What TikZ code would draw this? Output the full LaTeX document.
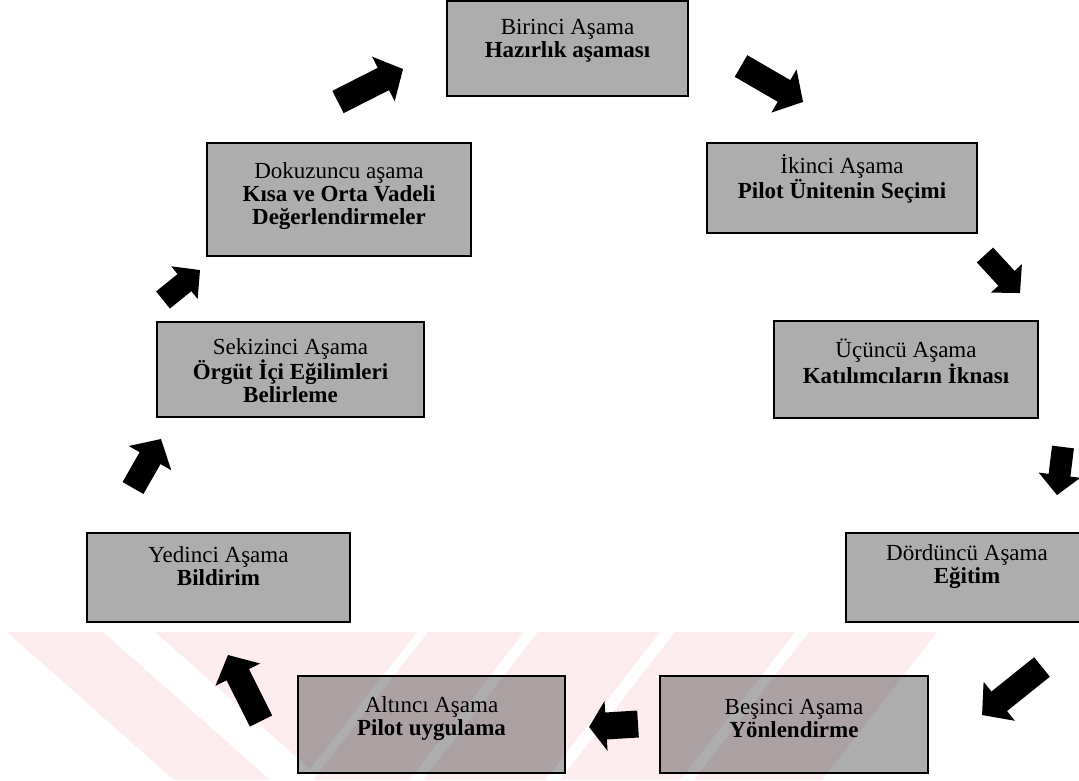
\documentclass[tikz,border=0pt]{standalone}
\usepackage{fontspec}
\setmainfont{Liberation Serif}
\usetikzlibrary{calc}
\definecolor{boxgray}{gray}{0.68}
\definecolor{markpink}{RGB}{253,237,239}
\tikzset{
  stagebox/.style={draw=black, line width=1.8pt, fill=boxgray, inner sep=0pt},
  stagetext/.style={align=center, inner sep=0pt, text=black,
    font=\fontsize{23}{23}\selectfont},
  ashaft/.store in=\blkshaft, ashaft=12.5,
  ahead/.store in=\blkhead, ahead=25,
  aheadlen/.store in=\blkheadlen, aheadlen=22,
  smallarrow/.style={ashaft=11, ahead=21, aheadlen=20},
  blockarrow/.pic={
    \fill[black] (0,-\blkshaft) -- ({#1-\blkheadlen},-\blkshaft)
      -- ({#1-\blkheadlen},-\blkhead) -- (#1,0)
      -- ({#1-\blkheadlen},\blkhead) -- ({#1-\blkheadlen},\blkshaft)
      -- (0,\blkshaft) -- cycle;}
}
\begin{document}
\begin{tikzpicture}[x=1pt, y=-1pt]
\useasboundingbox[fill=white] (0,0) rectangle (1079,780);

% stage boxes
\node[stagebox, minimum width=241, minimum height=95] (b1) at (567.5,48.5) {};
\node[stagebox, minimum width=270, minimum height=90] (b2) at (842,188) {};
\node[stagebox, minimum width=264, minimum height=97] (b3) at (906,369.5) {};
\node[stagebox, minimum width=242, minimum height=89] (b4) at (967,577.5) {};
\node[stagebox, minimum width=268, minimum height=97] (b5) at (794,724.5) {};
\node[stagebox, minimum width=267, minimum height=97] (b6) at (431.5,724.5) {};
\node[stagebox, minimum width=263, minimum height=89] (b7) at (218.5,577.5) {};
\node[stagebox, minimum width=267, minimum height=95] (b8) at (290.5,369.5) {};
\node[stagebox, minimum width=264, minimum height=113] (b9) at (339,199.5) {};

% stage titles
\node[stagetext] (t1) at ([yshift=8]b1.center) {Birinci Aşama\\\textbf{Hazırlık aşaması}};
\node[stagetext] (t2) at ([yshift=9]b2.center) {İkinci Aşama\\\textbf{Pilot Ünitenin Seçimi}};
\node[stagetext] (t3) at ([yshift=8]b3.center) {Üçüncü Aşama\\\textbf{Katılımcıların İknası}};
\node[stagetext] (t4) at ([yshift=11]b4.center) {Dördüncü Aşama\\\textbf{Eğitim}};
\node[stagetext] (t5) at ([yshift=6]b5.center) {Beşinci Aşama\\\textbf{Yönlendirme}};
\node[stagetext] (t6) at ([yshift=6]b6.center) {Altıncı Aşama\\\textbf{Pilot uygulama}};
\node[stagetext] (t7) at ([yshift=11]b7.center) {Yedinci Aşama\\\textbf{Bildirim}};
\node[stagetext] (t8) at ([yshift=-1]b8.center) {Sekizinci Aşama\\\textbf{Örgüt İçi Eğilimleri}\\\textbf{Belirleme}};
\node[stagetext] (t9) at ([yshift=3]b9.center) {Dokuzuncu aşama\\\textbf{Kısa ve Orta Vadeli}\\\textbf{Değerlendirmeler}};

% block arrows, placed at their tails
\coordinate (a1) at (741,66);
\coordinate (a2) at (985,255);
\coordinate (a3) at (1063,447);
\coordinate (a4) at (1042,667);
\coordinate (a5) at (638,724);
\coordinate (a6) at (261,721);
\coordinate (a7) at (133,488);
\coordinate (a8) at (163,300);
\coordinate (a9) at (338,102);
\pic[rotate=-30.1] at (a1) {blockarrow=71.7};
\pic[rotate=-47.4, smallarrow] at (a2) {blockarrow=51.7};
\pic[rotate=-97.1, smallarrow] at (a3) {blockarrow=48.4};
\pic[rotate=-141.3] at (a4) {blockarrow=76.8};
\pic[rotate=-176.5, ashaft=13.5, aheadlen=17] at (a5) {blockarrow=49};
\pic[rotate=116.6] at (a6) {blockarrow=73.8};
\pic[rotate=60.3, ashaft=12, ahead=24.5] at (a7) {blockarrow=56.4};
\pic[rotate=39, smallarrow] at (a8) {blockarrow=47.6};
\pic[rotate=26.9] at (a9) {blockarrow=72.9};

% faint striped mark along the bottom
\begin{scope}[blend mode=multiply]
  \fill[markpink] (7,632) -- (103,632) -- (270,780) -- (174,780) -- cycle;
  \fill[markpink] (155,632) -- (417,632) -- (310,769) -- cycle;
  \fill[markpink] (428,632) -- (524,632) -- (409,780) -- (313,780) -- cycle;
  \fill[markpink] (538,632) -- (660,632) -- (545,780) -- (423,780) -- cycle;
  \fill[markpink] (675,632) -- (795,632) -- (680,780) -- (560,780) -- cycle;
  \fill[markpink] (809,632) -- (937,632) -- (822,780) -- (694,780) -- cycle;
\end{scope}
\end{tikzpicture}
\end{document}
